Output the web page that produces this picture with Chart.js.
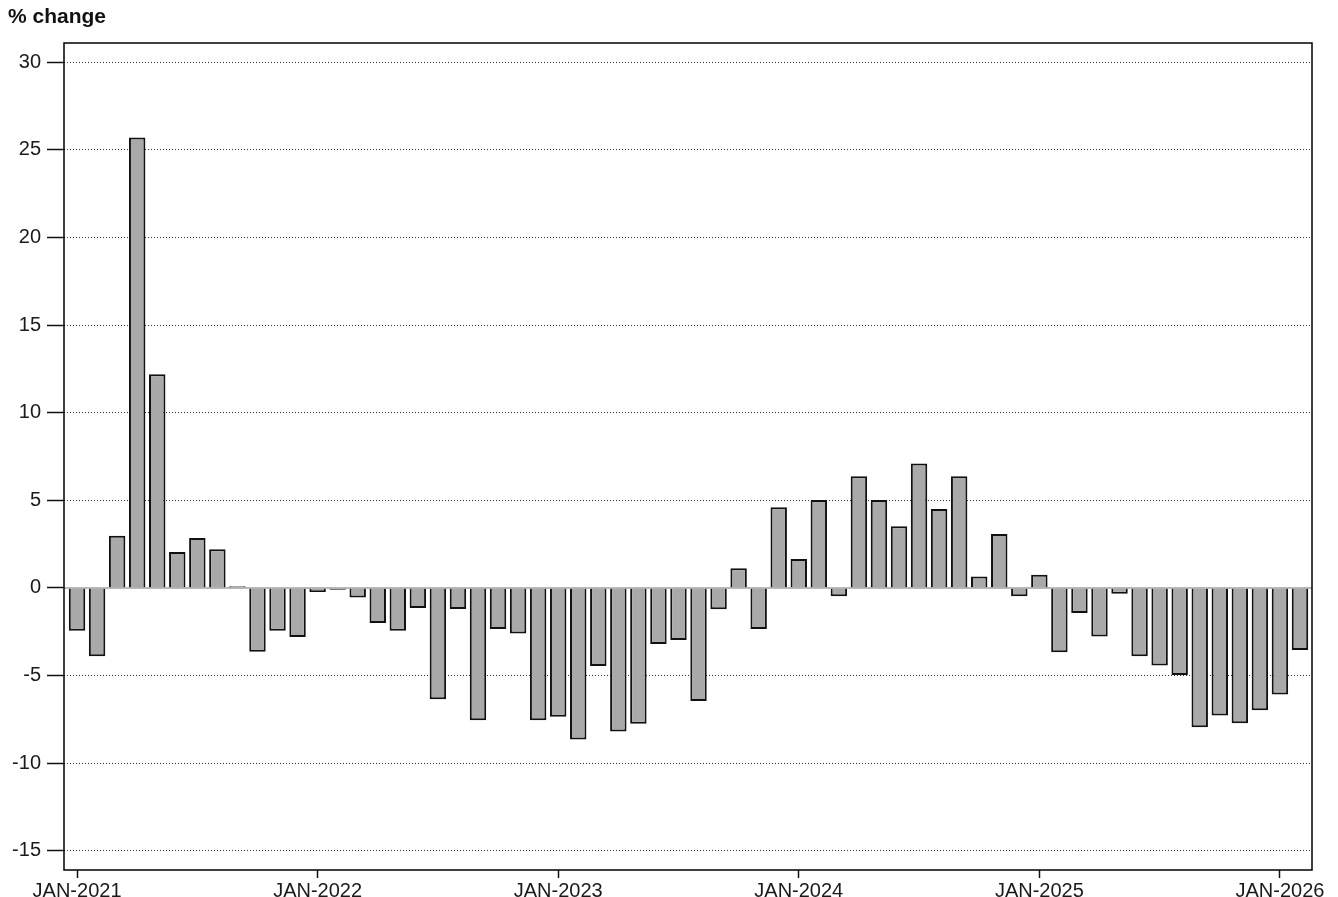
<!DOCTYPE html>
<html>
<head>
<meta charset="utf-8">
<script src="https://cdn.jsdelivr.net/npm/chart.js@4/dist/chart.umd.min.js"></script>
<style>
  html, body { margin: 0; padding: 0; background: #fff; }
  #wrap { width: 1338px; height: 897px; }
</style>
</head>
<body>
<div id="wrap"><canvas id="chart" width="1338" height="897"></canvas></div>
<script>
// monthly categories, JAN-2021 .. FEB-2026
const monthNames = ['JAN', 'FEB', 'MAR', 'APR', 'MAY', 'JUN', 'JUL', 'AUG', 'SEP', 'OCT', 'NOV', 'DEC'];
const startYear = 2021;
const monthCount = 62;
const months = [];
for (let i = 0; i < monthCount; i++) {
    months.push(monthNames[i % 12] + '-' + (startYear + Math.floor(i / 12)));
}

// % change, one value per month
const changes = [
    -2.45, -3.9, 2.97, 25.7, 12.2, 2.05, 2.85, 2.2, 0.1, -3.65, -2.45, -2.8,
    -0.23, -0.1, -0.55, -2.0, -2.45, -1.15, -6.35, -1.2, -7.55, -2.35, -2.6, -7.55,
    -7.35, -8.65, -4.45, -8.2, -7.75, -3.2, -2.97, -6.45, -1.22, 1.12, -2.35, 4.6,
    1.65, 5.02, -0.47, 6.37, 5.02, 3.52, 7.1, 4.5, 6.37, 0.65, 3.08, -0.47,
    0.75, -3.67, -1.43, -2.78, -0.33, -3.9, -4.43, -4.97, -7.95, -7.28, -7.72, -6.98,
    -6.08, -3.55
];

// axis ticks
const yTicks = [-15, -10, -5, 0, 5, 10, 15, 20, 25, 30];
const xTickIndex = [0, 12, 24, 36, 48, 60];

const FONT = "'Liberation Sans', Arial, sans-serif";

// box around the plot, solid zero line and the "% change" label
const framePlugin = {
    id: 'frame',
    afterDatasetsDraw(chart) {
        const { ctx, chartArea } = chart;
        const y0 = chart.scales.y.getPixelForValue(0);
        ctx.save();
        ctx.strokeStyle = '#a0a0a0';
        ctx.lineWidth = 1.5;
        ctx.beginPath();
        ctx.moveTo(chartArea.left, y0);
        ctx.lineTo(chartArea.right, y0);
        ctx.stroke();
        ctx.restore();
    },
    afterDraw(chart) {
        const { ctx, chartArea } = chart;
        ctx.save();
        ctx.strokeStyle = '#000';
        ctx.lineWidth = 1.5;
        ctx.strokeRect(chartArea.left, chartArea.top,
            chartArea.right - chartArea.left, chartArea.bottom - chartArea.top);
        ctx.fillStyle = '#111';
        ctx.font = 'bold 21px ' + FONT;
        ctx.textBaseline = 'alphabetic';
        ctx.fillText('% change', 8, 23);
        ctx.restore();
    }
};

new Chart(document.getElementById('chart'), {
    type: 'bar',
    data: {
        datasets: [{
            label: '% change',
            data: changes.map((v, i) => ({ x: i, y: v })),
            backgroundColor: '#a9a9a9',
            borderColor: '#111',
            borderWidth: 2,
            barPercentage: 1,
            categoryPercentage: 0.82
        }]
    },
    options: {
        responsive: false,
        animation: false,
        layout: { padding: { top: 43, right: 26, left: 0, bottom: 0 } },
        plugins: {
            legend: { display: false },
            tooltip: { enabled: false }
        },
        scales: {
            x: {
                type: 'linear',
                min: -0.65,
                max: 61.6,
                offset: false,
                afterBuildTicks: (scale) => { scale.ticks = xTickIndex.map(v => ({ value: v })); },
                afterFit: (scale) => { scale.height = 27; },
                grid: {
                    offset: false,
                    drawOnChartArea: false,
                    drawTicks: true,
                    tickLength: 8,
                    tickColor: '#111',
                    tickWidth: 1.5
                },
                border: { display: false },
                ticks: {
                    autoSkip: false,
                    maxRotation: 0,
                    padding: 1,
                    color: '#1a1a1a',
                    font: { family: FONT, size: 20 },
                    callback: (value) => months[value]
                }
            },
            y: {
                min: -16.1,
                max: 31.1,
                z: 1,
                afterBuildTicks: (scale) => { scale.ticks = yTicks.map(v => ({ value: v })); },
                afterFit: (scale) => { scale.width = 64; },
                grid: {
                    color: (ctx) => (ctx.tick && ctx.tick.value === 0) ? 'rgba(0,0,0,0)' : '#333',
                    lineWidth: 1,
                    tickLength: 17,
                    tickColor: '#111',
                    tickWidth: 1.5
                },
                border: { display: false, dash: [1, 2] },
                ticks: {
                    padding: 6,
                    color: '#1a1a1a',
                    font: { family: FONT, size: 20 }
                }
            }
        }
    },
    plugins: [framePlugin]
});
</script>
</body>
</html>
